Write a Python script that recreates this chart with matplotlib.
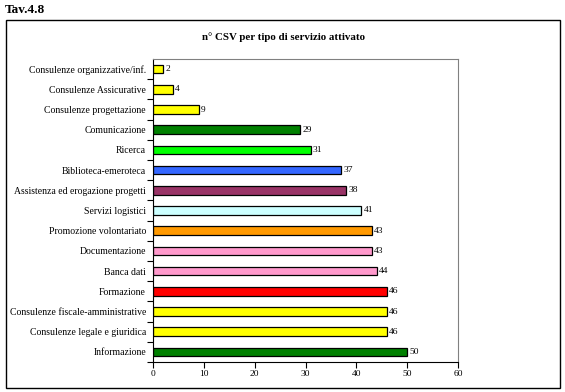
import matplotlib
matplotlib.use("Agg")
import matplotlib.pyplot as plt
from matplotlib.patches import Rectangle

# categories from bottom to top
categories = [
    "Informazione",
    "Consulenze legale e giuridica",
    "Consulenze fiscale-amministrative",
    "Formazione",
    "Banca dati",
    "Documentazione",
    "Promozione volontariato",
    "Servizi logistici",
    "Assistenza ed erogazione progetti",
    "Biblioteca-emeroteca",
    "Ricerca",
    "Comunicazione",
    "Consulenze progettazione",
    "Consulenze Assicurative",
    "Consulenze organizzative/inf.",
]
values = [50, 46, 46, 46, 44, 43, 43, 41, 38, 37, 31, 29, 9, 4, 2]
colors = [
    "#008000", "#FFFF00", "#FFFF00", "#FF0000", "#FF99CC", "#FF99CC",
    "#FF9900", "#CCFFFF", "#993366", "#3366FF", "#00FF00", "#008000",
    "#FFFF00", "#FFFF00", "#FFFF00",
]
x_ticks = [0, 10, 20, 30, 40, 50, 60]

plt.rcParams['font.family'] = ['Liberation Serif', 'DejaVu Serif']

W, H = 565, 392
fig = plt.figure(figsize=(W / 100, H / 100), dpi=100)

# outer frame
fig.patches.append(Rectangle((6 / W, 1 - 388 / H), 554 / W, 368 / H,
                             transform=fig.transFigure, fill=False,
                             edgecolor="black", linewidth=1.0))
fig.text(5 / W, 1 - 10 / H, "Tav.4.8", fontsize=9.5, fontweight="bold",
         ha="left", va="center")
fig.text(283 / W, 1 - 37 / H, "n° CSV per tipo di servizio attivato",
         fontsize=7.8, fontweight="bold", ha="center", va="center")

ax = fig.add_axes([153 / W, 1 - 362 / H, 305 / W, 303 / H])
pos = list(range(len(categories)))
bars = ax.barh(pos, values, height=0.42, color=colors, edgecolor="black",
               linewidth=0.9)
for p, v in zip(pos, values):
    ax.text(v + 0.4, p, str(v), fontsize=6.8, ha="left", va="center")

ax.set_xlim(0, 60)
ax.set_ylim(-0.5, len(categories) - 0.5)
ax.set_xticks(x_ticks)
ax.set_xticklabels([str(t) for t in x_ticks], fontsize=6.8)
ax.set_yticks(pos)
ax.set_yticklabels(categories, fontsize=7)
ax.tick_params(axis="y", which="major", length=0, pad=5)
ax.set_yticks([p + 0.5 for p in pos[:-1]] + [-0.5], minor=True)
ax.tick_params(axis="y", which="minor", length=4, width=0.8, direction="out")
ax.tick_params(axis="x", length=4, width=0.8, direction="out", pad=2)

for s in ("left", "bottom"):
    ax.spines[s].set_color("black")
    ax.spines[s].set_linewidth(0.8)
for s in ("top", "right"):
    ax.spines[s].set_color("#808080")
    ax.spines[s].set_linewidth(0.8)

fig.savefig("out.png", dpi=100)
